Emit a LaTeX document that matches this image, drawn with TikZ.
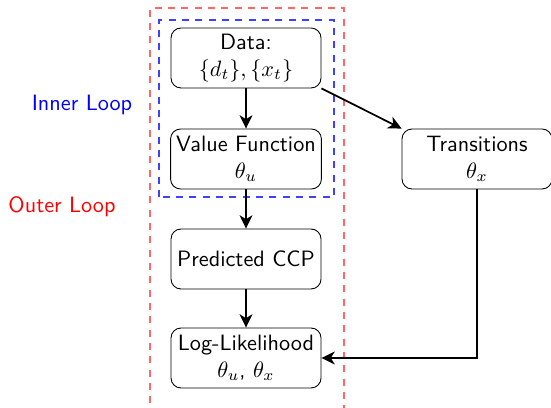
\documentclass[tikz,border=0pt]{standalone}
\usetikzlibrary{arrows.meta}
\begin{document}
\begin{tikzpicture}[x=0.45pt,y=-0.45pt,font=\sffamily,
  box/.style={draw,rounded corners=4.5pt,minimum width=67.5pt,minimum height=27pt,
    align=center,inner sep=2.5pt},
  flow/.style={thick,-{Stealth[length=6pt,width=5.8pt,inset=1.8pt]}},
  loopframe/.style={dash pattern=on 3.2pt off 2.8pt,line width=0.8pt}]
  \useasboundingbox (0,0) rectangle (551,408);

  % outer loop frame (open at the bottom of the page)
  \draw[loopframe,draw=red!60] (150,430) -- (150,8) -- (344,8) -- (344,430);
  % inner loop frame
  \draw[loopframe,draw=blue!75] (159,197) -- (159,20) -- (334,20)
    -- (334,197) -- cycle;

  % loop labels
  \node[text=blue] (innerlbl) at (82,105) {Inner Loop};
  \node[text=red] (outerlbl) at (62,207) {Outer Loop};

  % stages
  \node[box] (data) at (246,58) {Data:\\$\{d_t\},\{x_t\}$};
  \node[box] (vf) at (246,159) {Value Function\\$\theta_u$};
  \node[box] (ccp) at (246,259) {Predicted CCP};
  \node[box] (ll) at (246,358) {Log-Likelihood\\$\theta_u$, $\theta_x$};
  \node[box] (tr) at (477,159) {Transitions\\$\theta_x$};

  % connectors
  \draw[flow] (data) -- (vf);
  \draw[flow] (vf) -- (ccp);
  \draw[flow] (ccp) -- (ll);
  \draw[flow] (data.south east) -- (tr.north west);
  \draw[flow] (tr.south) |- (ll.east);
\end{tikzpicture}
\end{document}
